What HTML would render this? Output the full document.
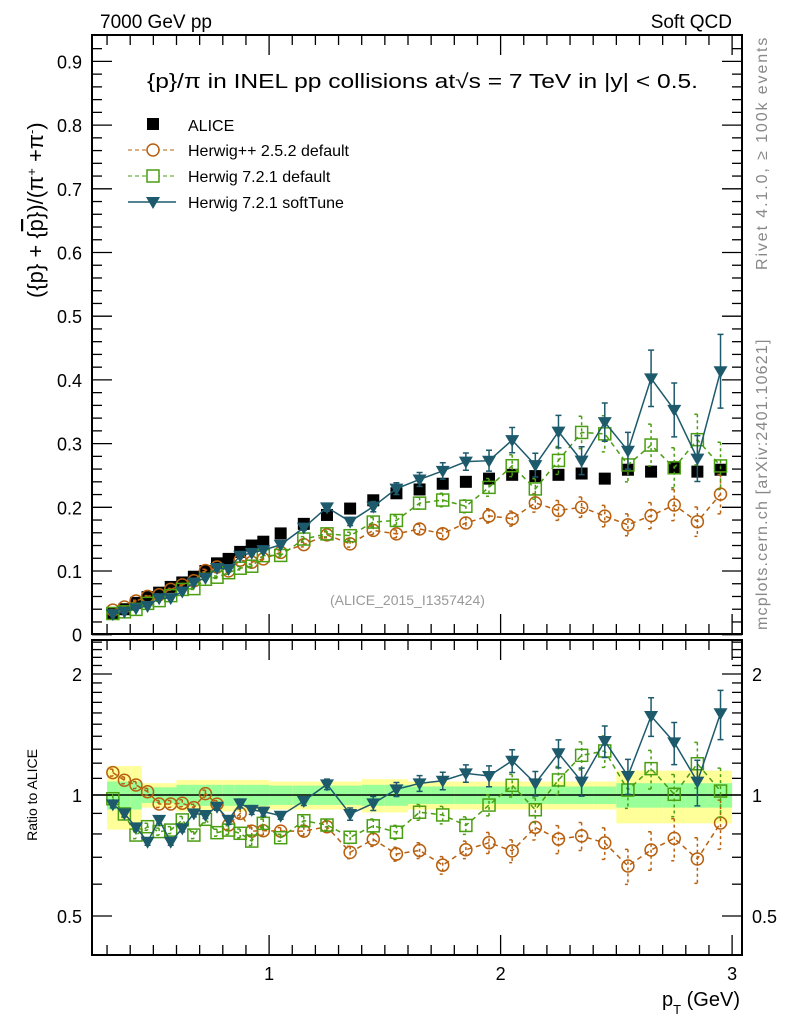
<!DOCTYPE html>
<html><head><meta charset="utf-8"><style>
html,body{margin:0;padding:0;background:#fff;}
svg{display:block;font-family:"Liberation Sans",sans-serif;}
</style></head><body>
<svg id="chart" width="786" height="1024" viewBox="0 0 786 1024" xmlns="http://www.w3.org/2000/svg">
<text x="100" y="28" font-size="19">7000 GeV pp</text>
<text x="732" y="28" font-size="19" text-anchor="end">Soft QCD</text>
<text transform="translate(767,270) rotate(-90)" font-size="16" fill="#888" letter-spacing="1.9">Rivet 4.1.0, ≥ 100k events</text>
<text transform="translate(767,630) rotate(-90)" font-size="16" fill="#888" letter-spacing="1.2">mcplots.cern.ch [arXiv:2401.10621]</text>
<text transform="translate(43,298) rotate(-90)" font-size="22">({p} + {<tspan text-decoration="overline">p</tspan>})/(π<tspan baseline-shift="super" font-size="13">+</tspan> +π<tspan baseline-shift="super" font-size="13">-</tspan>)</text>
<text transform="translate(37,795) rotate(-90)" font-size="14" text-anchor="middle">Ratio to ALICE</text>
<text x="740" y="1006" font-size="20" text-anchor="end">p<tspan baseline-shift="sub" font-size="13">T</tspan> (GeV)</text>
<text x="147" y="88" font-size="20" textLength="551" lengthAdjust="spacingAndGlyphs">{p}/π in INEL pp collisions at√s =  7 TeV in |y| &lt; 0.5.</text>
<text x="330" y="605" font-size="14" fill="#999">(ALICE_2015_I1357424)</text>
<g id="bands"></g><g id="marks"></g><g id="axes"></g>
<g>
<rect x="147" y="118" width="12" height="12" fill="#000"/>
<text x="188" y="131" font-size="16">ALICE</text>
<line x1="128" y1="150" x2="176" y2="150" stroke="#b8600f" stroke-dasharray="4,3"/>
<circle cx="153" cy="150" r="6" fill="#fff" stroke="#b8600f" stroke-width="1.5"/>
<text x="188" y="156" font-size="16">Herwig++ 2.5.2 default</text>
<line x1="128" y1="176" x2="176" y2="176" stroke="#4a9e12" stroke-dasharray="4,3"/>
<rect x="147" y="170" width="12" height="12" fill="#fff" stroke="#4a9e12" stroke-width="1.5"/>
<text x="188" y="182" font-size="16">Herwig 7.2.1 default</text>
<line x1="128" y1="202" x2="176" y2="202" stroke="#1d5a6c" stroke-width="1.5"/>
<path d="M146,197 L160,197 L153,209 Z" fill="#1d5a6c"/>
<text x="188" y="208" font-size="16">Herwig 7.2.1 softTune</text>
</g>
</svg>
<script>
const pT = [0.325,0.375,0.425,0.475,0.525,0.575,0.625,0.675,0.725,0.775,0.825,0.875,0.925,0.975,1.05,1.15,1.25,1.35,1.45,1.55,1.65,1.75,1.85,1.95,2.05,2.15,2.25,2.35,2.45,2.55,2.65,2.75,2.85,2.95];
const binHalf = [0.025,0.025,0.025,0.025,0.025,0.025,0.025,0.025,0.025,0.025,0.025,0.025,0.025,0.025,0.05,0.05,0.05,0.05,0.05,0.05,0.05,0.05,0.05,0.05,0.05,0.05,0.05,0.05,0.05,0.05,0.05,0.05,0.05,0.05];
const alice = [0.034,0.040,0.050,0.059,0.066,0.075,0.082,0.091,0.100,0.112,0.119,0.130,0.140,0.146,0.159,0.174,0.188,0.198,0.211,0.222,0.228,0.237,0.240,0.245,0.251,0.249,0.251,0.253,0.245,0.259,0.256,0.261,0.256,0.259];
const ratioHpp = [1.137,1.088,1.059,1.019,0.950,0.950,0.954,0.930,1.008,0.949,0.842,0.900,0.813,0.815,0.813,0.813,0.834,0.720,0.776,0.713,0.728,0.669,0.731,0.761,0.726,0.831,0.777,0.791,0.760,0.666,0.730,0.780,0.693,0.852];
const ratioH721 = [0.979,0.897,0.795,0.834,0.811,0.818,0.867,0.795,0.870,0.806,0.818,0.803,0.768,0.850,0.783,0.863,0.842,0.785,0.838,0.808,0.906,0.892,0.840,0.944,1.057,0.919,1.090,1.255,1.287,1.029,1.163,1.004,1.196,1.023];
const ratioSoft = [0.948,0.900,0.831,0.765,0.867,0.765,0.826,0.900,0.892,0.935,0.867,0.953,0.918,0.909,0.888,0.966,1.063,0.897,0.953,1.033,1.069,1.085,1.132,1.115,1.217,1.069,1.270,1.080,1.362,1.115,1.572,1.352,1.080,1.597];
const relErr = [0.02,0.02,0.02,0.02,0.02,0.02,0.02,0.02,0.02,0.02,0.025,0.025,0.025,0.025,0.02,0.025,0.03,0.035,0.04,0.04,0.045,0.05,0.05,0.06,0.065,0.07,0.08,0.08,0.09,0.1,0.11,0.12,0.13,0.14];
const statBand = [0.08,0.08,0.08,0.045,0.045,0.045,0.06,0.06,0.06,0.06,0.06,0.06,0.06,0.06,0.055,0.055,0.055,0.055,0.06,0.06,0.05,0.05,0.05,0.05,0.05,0.05,0.05,0.05,0.05,0.07,0.07,0.07,0.07,0.07];
const totBand = [0.18,0.18,0.18,0.07,0.07,0.07,0.09,0.09,0.09,0.09,0.09,0.09,0.09,0.09,0.08,0.08,0.08,0.08,0.095,0.095,0.08,0.08,0.08,0.08,0.08,0.08,0.08,0.08,0.08,0.15,0.15,0.15,0.15,0.15];
const mainTicks = ["0","0.1","0.2","0.3","0.4","0.5","0.6","0.7","0.8","0.9"];
const ratioTicks = ["0.5","1","2"];
const xTicks = ["1","2","3"];

const NS="http://www.w3.org/2000/svg";
const L=92,R=742,MT=35,MB=634,RT=640,RB=955;
const X=p=>37.6+231.5*p;
const Ym=v=>634.7-637*v;
const Yr=r=>795-402*Math.log10(r);
function el(tag,attrs,parent){const e=document.createElementNS(NS,tag);for(const k in attrs)e.setAttribute(k,attrs[k]);parent.appendChild(e);return e;}
const bands=document.getElementById('bands'),marks=document.getElementById('marks'),axes=document.getElementById('axes');

pT.forEach((p,i)=>{
  const x0=X(p-binHalf[i]),x1=X(p+binHalf[i]);
  let r=el('rect',{x:x0,y:Yr(1+totBand[i]),width:x1-x0,height:Yr(1-totBand[i])-Yr(1+totBand[i]),fill:'#ffff99'},bands);
  
  
  r=el('rect',{x:x0,y:Yr(1+statBand[i]),width:x1-x0,height:Yr(1-statBand[i])-Yr(1+statBand[i]),fill:'#99ff99'},bands);
  
  
});
let one=el('line',{x1:L,x2:R,y1:Yr(1),y2:Yr(1),stroke:'#000','stroke-width':1.5},bands);



pT.forEach((p,i)=>{
  const s=el('rect',{x:X(p)-6,y:Ym(alice[i])-6,width:12,height:12,fill:'#000'},marks);
  
  
});

const series=[
 {name:'herwigpp',ratio:ratioHpp,color:'#b8600f',dash:'4,3',marker:'circle'},
 {name:'herwig721',ratio:ratioH721,color:'#4a9e12',dash:'4,3',marker:'square'},
 {name:'softtune',ratio:ratioSoft,color:'#1d5a6c',dash:null,marker:'tri'}
];
function marker(s,x,y,g){
  let m;
  if(s.marker==='circle') m=el('circle',{cx:x,cy:y,r:6,fill:'none',stroke:s.color,'stroke-width':1.5},g);
  else if(s.marker==='square') m=el('rect',{x:x-6,y:y-6,width:12,height:12,fill:'none',stroke:s.color,'stroke-width':1.5},g);
  else m=el('path',{d:`M${x-7},${y-5} L${x+7},${y-5} L${x},${y+7} Z`,fill:s.color},g);
  
  
}
function errbar(s,x,y0,y1,g){
  const a={stroke:s.color,'stroke-width':1.5};
  if(s.dash)a['stroke-dasharray']='3,3';
  const e=el('path',Object.assign({d:`M${x},${y0} L${x},${y1} M${x-3},${y0} L${x+3},${y0} M${x-3},${y1} L${x+3},${y1}`,fill:'none'},a),g);
  
  
}
series.forEach(s=>{
  const vals=s.ratio.map((r,i)=>r*alice[i]);
  const la={fill:'none',stroke:s.color,'stroke-width':1.5};
  if(s.dash)la['stroke-dasharray']='5,4';
  const pm=el('polyline',Object.assign({points:pT.map((p,i)=>X(p)+','+Ym(vals[i])).join(' ')},la),marks);
  
  
  const pr=el('polyline',Object.assign({points:pT.map((p,i)=>X(p)+','+Yr(s.ratio[i])).join(' ')},la),marks);
  
  
  pT.forEach((p,i)=>{
    const x=X(p),v=vals[i],e=relErr[i];
    errbar(s,x,Ym(v*(1+e)),Ym(v*(1-e)),marks);
    marker(s,x,Ym(v),marks);
    const r=s.ratio[i];
    errbar(s,x,Yr(r*(1+e)),Yr(r*(1-e)),marks);
    marker(s,x,Yr(r),marks);
  });
});

[[MT,MB,'main-frame'],[RT,RB,'ratio-frame']].forEach(f=>{
  const r=el('rect',{x:L,y:f[0],width:R-L,height:f[1]-f[0],fill:'none',stroke:'#000','stroke-width':2},axes);
  
  
});
function tick(x1,y1,x2,y2){el('line',{x1,y1,x2,y2,stroke:'#000','stroke-width':1.3},axes);}
for(let k=0;k<=46;k++){
  const v=k*0.02,y=Ym(v);if(y<MT)break;
  const len=(k%5===0)?20:10;
  tick(L,y,L+len,y);tick(R,y,R-len,y);
}
mainTicks.forEach((t,i)=>{
  const tx=el('text',{x:82,y:Ym(+t)+7,'font-size':18,'text-anchor':'end'},axes);tx.textContent=t;
  
  
});
for(let k=4;k<=24;k++){
  const r=k/10,y=Yr(r);if(y<RT||y>RB)continue;
  const major=(k===5||k===10||k===20);const len=major?20:10;
  tick(L,y,L+len,y);tick(R,y,R-len,y);
}
ratioTicks.forEach(t=>{
  const y=Yr(+t)+7;
  let tx=el('text',{x:82,y,'font-size':18,'text-anchor':'end'},axes);tx.textContent=t;
  
  
  tx=el('text',{x:752,y,'font-size':18},axes);tx.textContent=t;
  
  
});
for(let k=3;k<=30;k++){
  const x=X(k/10);if(x<L||x>R)continue;
  const len=(k%10===0)?20:10;
  tick(x,MT,x,MT+len);tick(x,MB,x,MB-len);tick(x,RT,x,RT+len);tick(x,RB,x,RB-len);
}
xTicks.forEach(t=>{
  const tx=el('text',{x:X(+t),y:980,'font-size':18,'text-anchor':'middle'},axes);tx.textContent=t;
  
  
});
</script>
</body></html>
